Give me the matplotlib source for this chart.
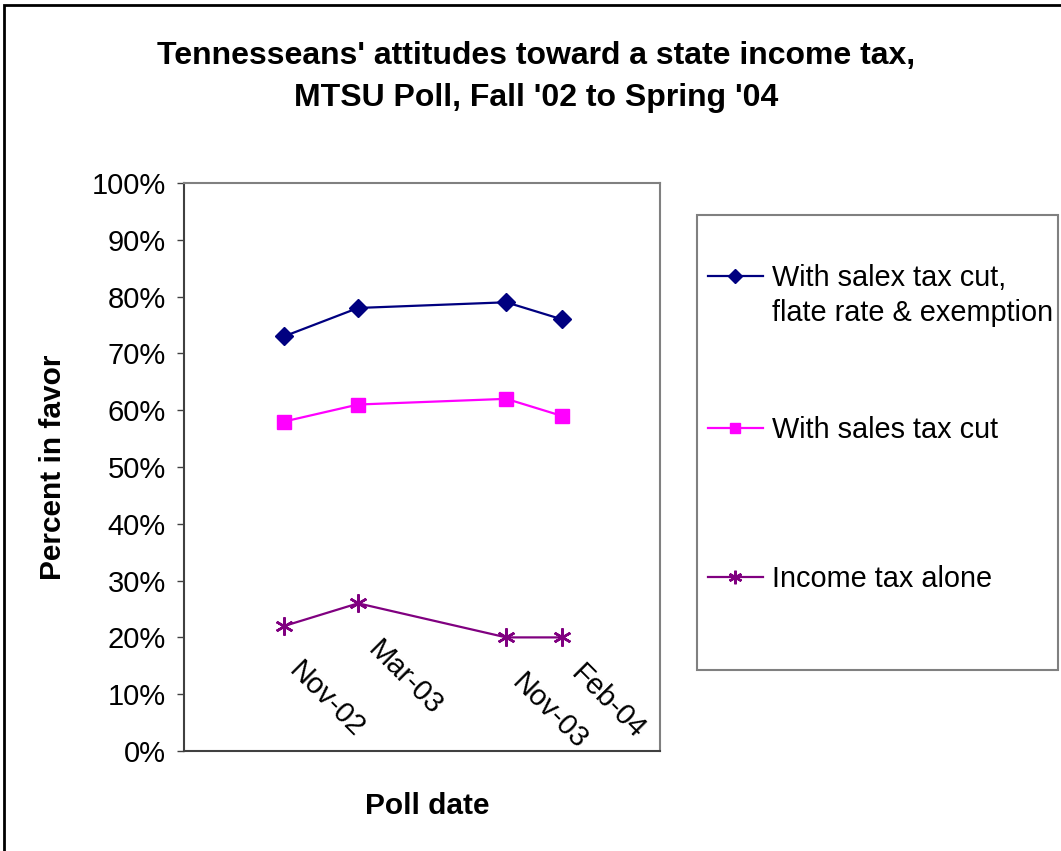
import numpy as np
import matplotlib
matplotlib.use("Agg")
import matplotlib.pyplot as plt
from matplotlib.patches import Rectangle
from matplotlib.lines import Line2D
from matplotlib.transforms import ScaledTranslation

plt.rcParams['font.family'] = ['Liberation Sans', 'DejaVu Sans']

# poll dates, as months after Nov-02
dates = ["Nov-02", "Mar-03", "Nov-03", "Feb-04"]
months = [0, 4, 12, 15]

# percent in favor
flat_rate = [73, 78, 79, 76]
sales_cut = [58, 61, 62, 59]
alone = [22, 26, 20, 20]

names = ["With salex tax cut,", "flate rate & exemption", "With sales tax cut", "Income tax alone"]

fig = plt.figure(figsize=(10.61, 8.51), dpi=100)
ax = fig.add_axes([184/1061, 100/851, 476/1061, 568/851])

l1, = ax.plot(months, flat_rate, color='#000080', lw=1.6, marker='D', ms=9)
l2, = ax.plot(months, sales_cut, color='#FF00FF', lw=1.6, marker='s', ms=10)
l3, = ax.plot(months, alone, color='#800080', lw=1.6, marker=(6, 2, 0), ms=13, mew=1.8)

ax.set_xlim(-5.4, 20.3)
ax.set_ylim(0, 100)
ax.set_yticks(np.arange(0, 101, 10))
ax.set_yticklabels([f"{v}%" for v in range(0, 101, 10)], fontsize=21)
ax.tick_params(axis='y', direction='out', length=5, width=1, color='#404040', pad=8)

ax.set_xticks(months)
ax.set_xticklabels(dates, fontsize=21, rotation=-45, ha='center', va='center',
                   rotation_mode='anchor')
ax.tick_params(axis='x', length=0, pad=0)
# Excel placed the date labels inside the plot area
offsets = [(42, 51), (47, 73), (43, 39), (46, 49)]
for lab, (dx, dy) in zip(ax.get_xticklabels(), offsets):
    lab.set_transform(lab.get_transform() + ScaledTranslation(dx/100, dy/100, fig.dpi_scale_trans))

for s in ax.spines.values():
    s.set_color('#808080')
    s.set_linewidth(1.5)
ax.spines['left'].set_color('#404040')
ax.spines['bottom'].set_color('#404040')

ax.set_ylabel("Percent in favor", fontsize=21.5, fontweight='bold')
ax.set_xlabel("Poll date", fontsize=21.5, fontweight='bold')
ax.xaxis.set_label_coords(0.512, -0.072)
ax.yaxis.set_label_coords(-0.246, 0.5)

fig.text(536/1061, 1 - 56/851, "Tennesseans' attitudes toward a state income tax,",
         ha='center', va='center', fontsize=23, fontweight='bold')
fig.text(536/1061, 1 - 98/851, "MTSU Poll, Fall '02 to Spring '04",
         ha='center', va='center', fontsize=23, fontweight='bold')

# legend box
fig.patches.append(Rectangle((697/1061, 1 - 670/851), 361/1061, 455/851,
                             transform=fig.transFigure, fill=False,
                             edgecolor='#808080', lw=1.5))
blank = Line2D([], [], color='none')
leg_kw = dict(loc='upper left', frameon=False, fontsize=20.8, handlelength=1.9,
              handletextpad=0.3, markerscale=0.75, borderpad=0, borderaxespad=0)
leg_a = fig.legend([l1, blank], names[:2], bbox_to_anchor=(708/1061, 1 - 264/851),
                   labelspacing=0.25, **leg_kw)
leg_b = fig.legend([l2, l3], names[2:], bbox_to_anchor=(708/1061, 1 - 416/851),
                   labelspacing=4.2, **leg_kw)

# outer chart border
fig.patches.append(Rectangle((4/1061, -0.01), 1.1, 1 - 5/851 + 0.01,
                             transform=fig.transFigure, fill=False,
                             edgecolor='black', lw=2))

fig.savefig("out.png", dpi=100)
